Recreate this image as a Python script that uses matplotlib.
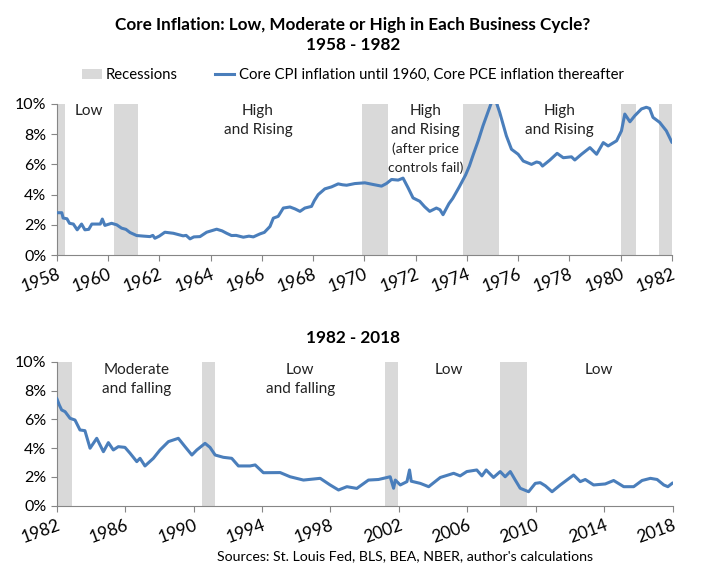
import matplotlib
matplotlib.use("Agg")
import matplotlib.pyplot as plt
from matplotlib.patches import Patch
from matplotlib.lines import Line2D

plt.rcParams['font.family'] = ['Lato', 'DejaVu Sans']

# ---- data ----
# 1958 - 1982 (core CPI until 1960, core PCE after)
years_a = [1958.0, 1958.2, 1958.25, 1958.4, 1958.5, 1958.65, 1958.8, 1958.97, 1959.1, 1959.25,
           1959.37, 1959.7, 1959.78, 1959.88, 1960.14, 1960.34, 1960.53, 1960.7, 1960.86, 1961.12,
           1961.4, 1961.64, 1961.75, 1961.83, 1962.0, 1962.22, 1962.55, 1962.93, 1963.05, 1963.2,
           1963.35, 1963.59, 1963.85, 1964.24, 1964.45, 1964.63, 1964.82, 1965.0, 1965.28, 1965.5,
           1965.67, 1965.93, 1966.1, 1966.32, 1966.45, 1966.64, 1966.84, 1967.1, 1967.3, 1967.49,
           1967.68, 1967.94, 1968.05, 1968.2, 1968.46, 1968.72, 1968.98, 1969.15, 1969.31, 1969.63,
           1970.02, 1970.34, 1970.67, 1970.86, 1971.06, 1971.32, 1971.51, 1971.71, 1971.9, 1972.16,
           1972.35, 1972.55, 1972.81, 1972.95, 1973.07, 1973.3, 1973.45, 1973.7, 1973.95, 1974.1,
           1974.24, 1974.45, 1974.63, 1974.89, 1975.0, 1975.15, 1975.28, 1975.54, 1975.74, 1976.0,
           1976.2, 1976.52, 1976.72, 1976.85, 1976.95, 1977.24, 1977.52, 1977.76, 1978.08, 1978.21,
           1978.47, 1978.8, 1979.06, 1979.32, 1979.51, 1979.84, 1980.03, 1980.16, 1980.36, 1980.55,
           1980.81, 1981.0, 1981.13, 1981.26, 1981.52, 1981.78, 1982.0]
infl_a = [2.80, 2.80, 2.45, 2.40, 2.10, 2.05, 1.67, 2.05, 1.67, 1.70,
          2.05, 2.05, 2.38, 1.96, 2.10, 2.00, 1.78, 1.70, 1.49, 1.29,
          1.25, 1.22, 1.30, 1.11, 1.25, 1.51, 1.44, 1.27, 1.30, 1.07,
          1.20, 1.22, 1.51, 1.71, 1.60, 1.44, 1.29, 1.30, 1.18, 1.25,
          1.20, 1.40, 1.50, 1.89, 2.44, 2.56, 3.11, 3.18, 3.05, 2.89,
          3.11, 3.22, 3.60, 4.00, 4.38, 4.51, 4.71, 4.65, 4.62, 4.73,
          4.78, 4.67, 4.56, 4.73, 5.00, 4.96, 5.09, 4.44, 3.78, 3.56,
          3.20, 2.89, 3.11, 3.00, 2.67, 3.40, 3.75, 4.50, 5.30, 5.90,
          6.60, 7.60, 8.56, 9.78, 10.3, 10.1, 9.44, 7.89, 7.00, 6.67,
          6.22, 6.00, 6.16, 6.10, 5.89, 6.29, 6.73, 6.44, 6.50, 6.29,
          6.67, 7.11, 6.67, 7.44, 7.22, 7.56, 8.22, 9.33, 8.82, 9.22,
          9.67, 9.78, 9.70, 9.11, 8.78, 8.22, 7.45]

# 1982 - 2018 (core PCE)
years_b = [1982.0, 1982.15, 1982.29, 1982.49, 1982.78, 1983.07, 1983.36, 1983.65, 1983.95, 1984.34,
           1984.73, 1985.02, 1985.31, 1985.6, 1985.99, 1986.29, 1986.68, 1986.87, 1987.16, 1987.65,
           1988.04, 1988.53, 1989.11, 1989.5, 1989.9, 1990.19, 1990.67, 1990.96, 1991.26, 1991.74,
           1992.23, 1992.62, 1993.3, 1993.6, 1994.08, 1995.06, 1995.64, 1996.42, 1997.4, 1997.98,
           1998.47, 1998.96, 1999.54, 2000.22, 2000.81, 2001.49, 2001.69, 2001.79, 2002.08, 2002.47,
           2002.62, 2002.72, 2003.25, 2003.74, 2004.42, 2005.2, 2005.58, 2005.97, 2006.55, 2006.85,
           2007.1, 2007.53, 2007.92, 2008.21, 2008.51, 2008.8, 2009.09, 2009.58, 2009.97, 2010.26,
           2010.56, 2010.95, 2011.43, 2012.21, 2012.6, 2012.89, 2013.38, 2014.06, 2014.55, 2015.14,
           2015.72, 2016.21, 2016.7, 2017.09, 2017.48, 2017.72, 2018.0]
infl_b = [7.46, 7.00, 6.65, 6.53, 6.07, 5.95, 5.26, 5.21, 3.99, 4.68,
          3.75, 4.38, 3.87, 4.10, 4.05, 3.64, 3.06, 3.29, 2.76, 3.29,
          3.87, 4.45, 4.68, 4.10, 3.52, 3.87, 4.33, 4.05, 3.52, 3.36,
          3.29, 2.76, 2.76, 2.83, 2.29, 2.30, 2.01, 1.78, 1.90, 1.44,
          1.09, 1.32, 1.20, 1.78, 1.82, 2.01, 1.21, 1.78, 1.44, 1.67,
          2.48, 1.70, 1.55, 1.32, 1.96, 2.25, 2.07, 2.37, 2.48, 2.07,
          2.48, 1.96, 2.37, 2.01, 2.37, 1.78, 1.21, 0.97, 1.55, 1.60,
          1.38, 0.97, 1.44, 2.13, 1.67, 1.82, 1.44, 1.51, 1.75, 1.32,
          1.32, 1.75, 1.90, 1.82, 1.44, 1.32, 1.58]

# NBER recessions (start, end) as fractional years
rec_start = [1957.58, 1960.25, 1969.92, 1973.83, 1980.0, 1981.5, 1990.5, 2001.17, 2007.92]
rec_end = [1958.33, 1961.17, 1970.92, 1975.25, 1980.58, 1982.92, 1991.25, 2001.92, 2009.5]

ticks_a = list(range(1958, 1983, 2))
ticks_b = list(range(1982, 2019, 4))
yticks = [0, 2, 4, 6, 8, 10]

labels_a = [(1959.26, ["Low"]),
            (1965.85, ["High", "and Rising"]),
            (1972.4, ["High", "and Rising", "(after price", "controls fail)"]),
            (1977.62, ["High", "and Rising"])]
labels_b = [(1986.7, ["Moderate", "and falling"]),
            (1996.23, ["Low", "and falling"]),
            (2004.94, ["Low"]),
            (2013.71, ["Low"])]

LINE = '#4a7ebb'
SHADE = '#d9d9d9'
AXC = '#868686'

fig = plt.figure(figsize=(7.06, 5.68), dpi=100)
ax1 = fig.add_axes([0.0803, 0.551, 0.8715, 0.266])
ax2 = fig.add_axes([0.0803, 0.1097, 0.8725, 0.2535])


def style(ax, xlo, xhi, ticks):
    for s0, s1 in zip(rec_start, rec_end):
        ax.axvspan(s0, s1, color=SHADE, lw=0, zorder=1)
    ax.set_xlim(xlo, xhi)
    ax.set_ylim(0, 10)
    ax.set_xticks(ticks)
    ax.set_xticklabels([str(t) for t in ticks], rotation=20, ha='right',
                       rotation_mode='anchor', fontsize=12.5)
    ax.set_yticks(yticks)
    ax.set_yticklabels([f"{t}%" for t in yticks], fontsize=11.5)
    for s in ['top', 'right']:
        ax.spines[s].set_visible(False)
    for s in ['left', 'bottom']:
        ax.spines[s].set_color(AXC)
    ax.tick_params(axis='both', color=AXC, length=4, width=0.8, direction='out')
    ax.tick_params(axis='x', pad=4)


style(ax1, 1958, 1982, ticks_a)
style(ax2, 1982, 2018, ticks_b)

ax1.plot(years_a, infl_a, color=LINE, lw=2.2, zorder=3, solid_capstyle='round')
ax2.plot(years_b, infl_b, color=LINE, lw=2.2, zorder=3, solid_capstyle='round')

# region labels, one text per line
for x, lines in labels_a:
    for i, t in enumerate(lines):
        fs = 11 if i < 2 else 10
        ax1.text(x, 9.53 - i * 1.25, t, ha='center', va='center', fontsize=fs, color='#222222')
for x, lines in labels_b:
    for i, t in enumerate(lines):
        ax2.text(x, 9.42 - i * 1.35, t, ha='center', va='center', fontsize=11, color='#222222')

fig.text(0.5, 1 - 25 / 568, "Core Inflation: Low, Moderate or High in Each Business Cycle?",
         ha='center', va='center', fontsize=12.3, fontweight='bold')
fig.text(0.5, 1 - 45 / 568, "1958 - 1982", ha='center', va='center', fontsize=12.3, fontweight='bold')
fig.text(0.5, 1 - 338 / 568, "1982 - 2018", ha='center', va='center', fontsize=12.3, fontweight='bold')
fig.text(405 / 706, 1 - 556 / 568, "Sources: St. Louis Fed, BLS, BEA, NBER, author's calculations",
         ha='center', va='center', fontsize=10.2)

handles = [Patch(facecolor=SHADE, edgecolor='none'),
           Line2D([0], [0], color=LINE, lw=2.2)]
fig.legend(handles, ["Recessions", "Core CPI inflation until 1960, Core PCE inflation thereafter"],
           loc='center', bbox_to_anchor=(0.5, 1 - 75 / 568), ncol=2, frameon=False,
           fontsize=10.7, handlelength=1.3, handletextpad=0.3, columnspacing=2.5)

fig.savefig("out.png", dpi=100)
